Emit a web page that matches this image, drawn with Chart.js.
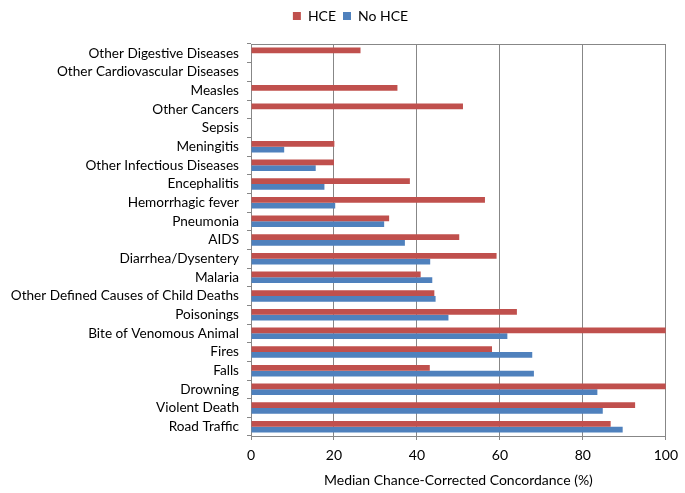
<!DOCTYPE html>
<html>
<head>
<meta charset="utf-8">
<script src="https://cdn.jsdelivr.net/npm/chart.js@4/dist/chart.umd.min.js"></script>
<style>
  html, body { margin: 0; padding: 0; background: #fff; }
  #wrap { width: 685px; height: 493px; }
</style>
</head>
<body>
<div id="wrap"><canvas id="myChart" width="685" height="493"></canvas></div>
<script>
/* ===== DATA ===== */
const causes = [
    'Other Digestive Diseases',
    'Other Cardiovascular Diseases',
    'Measles',
    'Other Cancers',
    'Sepsis',
    'Meningitis',
    'Other Infectious Diseases',
    'Encephalitis',
    'Hemorrhagic fever',
    'Pneumonia',
    'AIDS',
    'Diarrhea/Dysentery',
    'Malaria',
    'Other Defined Causes of Child Deaths',
    'Poisonings',
    'Bite of Venomous Animal',
    'Fires',
    'Falls',
    'Drowning',
    'Violent Death',
    'Road Traffic',
];

const hce = [26.4, null, 35.3, 51.1, null, 20.1, 20.0, 38.3, 56.4, 33.3, 50.2, 59.2, 40.9, 44.2, 64.1, 100, 58.1, 43.1, 100, 92.6, 86.7];
const noHce = [null, null, null, null, null, 8.0, 15.6, 17.7, 20.3, 32.1, 37.1, 43.2, 43.7, 44.5, 47.6, 61.8, 67.8, 68.2, 83.5, 84.8, 89.6];

const xTicks = [0, 20, 40, 60, 80, 100];

const gridColor = '#878787';
const fontFamily = 'Lato, "Open Sans", sans-serif';

/* ===== top border of the plot + legend nudge ===== */
const topBorder = {
    id: 'topBorder',
    afterLayout(chart) {
        // legend sits a bit right of centre in the original
        chart.legend.left += 8;
        chart.legend.right += 8;
    },
    afterDraw(chart) {
        const c = chart.ctx;
        const a = chart.chartArea;
        c.save();
        c.strokeStyle = gridColor;
        c.lineWidth = 1;
        c.beginPath();
        c.moveTo(a.left, a.top + 0.5);
        c.lineTo(a.right, a.top + 0.5);
        c.stroke();
        c.restore();
    }
};

// hidden axes used only as spacers
const spacer = (pos, size) => ({
    type: 'linear',
    position: pos,
    display: true,
    afterFit: (scale) => {
        if (pos === 'top') scale.height = size;
        else scale.width = size;
    },
    grid: { display: false },
    border: { display: false },
    ticks: { display: false },
});

/* ===== Chart JS ===== */
const ctx = document.getElementById('myChart').getContext('2d');

const barChart = new Chart(ctx, {
    type: 'bar',
    data: {
        labels: causes,
        datasets: [{
            label: 'HCE',
            backgroundColor: '#C0504D',
            data: hce,
            xAxisID: 'x',
            yAxisID: 'y',
        }, {
            label: 'No HCE',
            backgroundColor: '#4F81BD',
            data: noHce,
            xAxisID: 'x',
            yAxisID: 'y',
        }],
    },
    plugins: [topBorder],
    options: {
        indexAxis: 'y',
        responsive: false,
        animation: false,
        maintainAspectRatio: false,
        datasets: {
            bar: {
                categoryPercentage: 0.62,
                barPercentage: 1.0,
            }
        },
        layout: {
            padding: { top: 2, right: 0, bottom: 0, left: 0 }
        },
        scales: {
            x: {
                min: 0,
                max: 100,
                afterBuildTicks: (scale) => {
                    scale.ticks = xTicks.map(v => ({ value: v }));
                },
                afterFit: (scale) => { scale.height = 57; },
                grid: {
                    color: gridColor,
                    tickLength: 4,
                    lineWidth: 1,
                },
                border: { color: gridColor },
                ticks: {
                    color: '#000',
                    padding: 7,
                    font: { family: fontFamily, size: 14 },
                },
                title: {
                    display: true,
                    text: 'Median Chance-Corrected Concordance (%)',
                    color: '#000',
                    padding: { top: 2 },
                    font: { family: fontFamily, size: 14 },
                },
            },
            xTop: spacer('top', 11),
            yRight: spacer('right', 19),
            y: {
                afterFit: (scale) => { scale.width = 251; },
                grid: {
                    drawOnChartArea: false,
                    color: gridColor,
                    tickLength: 4,
                },
                border: { color: gridColor },
                ticks: {
                    color: '#000',
                    padding: 8,
                    autoSkip: false,
                    font: { family: fontFamily, size: 13.6 },
                },
            },
        },
        plugins: {
            legend: {
                position: 'top',
                labels: {
                    boxWidth: 8,
                    boxHeight: 8,
                    padding: 7,
                    color: '#000',
                    font: { family: fontFamily, size: 14 },
                },
            },
            tooltip: { enabled: false },
        }
    }
});
</script>
</body>
</html>
